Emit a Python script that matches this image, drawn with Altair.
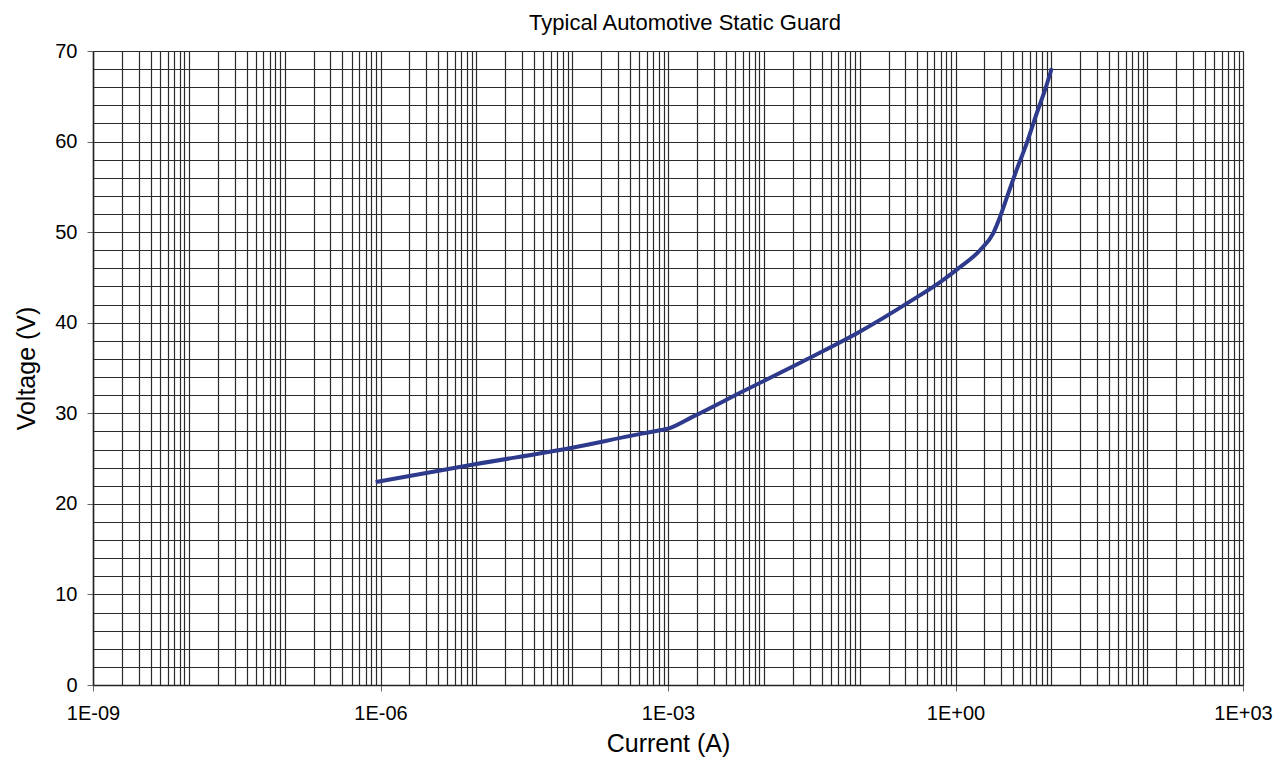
import json
import altair as alt
import pandas as pd

# Curve (Current in A, Voltage in V)
current = [8.9e-7, 1e-5, 1e-4, 5e-4, 8e-4, 1e-3, 1.8e-3, 6.0e-3, 3.0e-2, 0.1, 0.33, 0.74,
           1.07, 1.8, 2.48, 2.92, 3.56, 4.35, 5.53, 7.03, 8.59, 10.1]
voltage = [22.4, 24.4, 26.2, 27.7, 28.1, 28.3, 29.6, 32.4, 36.1, 39.0, 42.3, 44.7,
           46.0, 48.0, 49.9, 51.7, 54.3, 56.9, 59.8, 63.1, 65.7, 68.1]

# Axis ticks / labels
x_tick_values = [1e-9, 1e-6, 1e-3, 1.0, 1e3]
x_tick_labels = ["1E-09", "1E-06", "1E-03", "1E+00", "1E+03"]
x_grid_values = [float(f"{m}e{e}") for e in range(-9, 3) for m in range(1, 10)] + [1e3]
y_tick_values = [0, 10, 20, 30, 40, 50, 60, 70]
y_grid_values = list(range(0, 71, 2))

df = pd.DataFrame({"current": current, "voltage": voltage})

FONT = "Liberation Sans"
vals_js = "[" + ",".join(repr(v) for v in x_tick_values) + "]"
labels_js = json.dumps(x_tick_labels)
x_label_expr = f"indexof({vals_js}, datum.value) >= 0 ? {labels_js}[indexof({vals_js}, datum.value)] : ''"
x_tick_test = f"indexof({vals_js}, datum.value) >= 0"
yvals_js = "[" + ",".join(str(v) for v in y_tick_values) + "]"
y_tick_test = f"indexof({yvals_js}, datum.value) >= 0"
y_label_expr = f"{y_tick_test} ? datum.label : ''"

common = dict(
    labelFont=FONT, labelFontSize=20, labelColor="#000000",
    titleFont=FONT, titleFontSize=25, titleFontWeight="normal", titleColor="#000000",
    grid=True, gridColor="#2a2a2a", gridWidth=1.2, gridOpacity=1,
    domainColor="#222222", domainWidth=1.5,
    tickColor="#666666", tickSize=6,
    labelOverlap=False, labelFlush=False,
)

x_axis = alt.Axis(
    values=x_grid_values,
    labelExpr=x_label_expr,
    tickOpacity={"condition": {"test": x_tick_test, "value": 1}, "value": 0},
    labelPadding=12,
    titleX=575, titleY=58, titleBaseline="middle", titleAlign="center",
    **common,
)
y_axis = alt.Axis(
    values=y_grid_values,
    labelExpr=y_label_expr,
    tickOpacity={"condition": {"test": y_tick_test, "value": 1}, "value": 0},
    labelPadding=10,
    titleX=-67, titleY=317, titleBaseline="middle", titleAlign="center", titleAngle=-90,
    **common,
)

chart = alt.Chart(df).mark_line(
    color="#2E3A8C", strokeWidth=4, interpolate="monotone"
).encode(
    x=alt.X("current:Q", title="Current (A)",
            scale=alt.Scale(type="log", domain=[1e-9, 1e3], nice=False),
            axis=x_axis),
    y=alt.Y("voltage:Q", title="Voltage (V)",
            scale=alt.Scale(domain=[0, 70], nice=False),
            axis=y_axis),
).properties(
    width=1150, height=634,
    title=alt.TitleParams("Typical Automotive Static Guard", font=FONT, fontSize=22,
                          fontWeight="normal", color="#000000", anchor="middle",
                          baseline="alphabetic", dx=17, dy=25, offset=14),
    autosize=alt.AutoSizeParams(type="none"),
    padding={"left": 85, "top": 43, "right": 36, "bottom": 74},
).configure_view(stroke="#999999", strokeWidth=1)

chart.save("out.html", embed_options={"renderer": "svg", "actions": False})
